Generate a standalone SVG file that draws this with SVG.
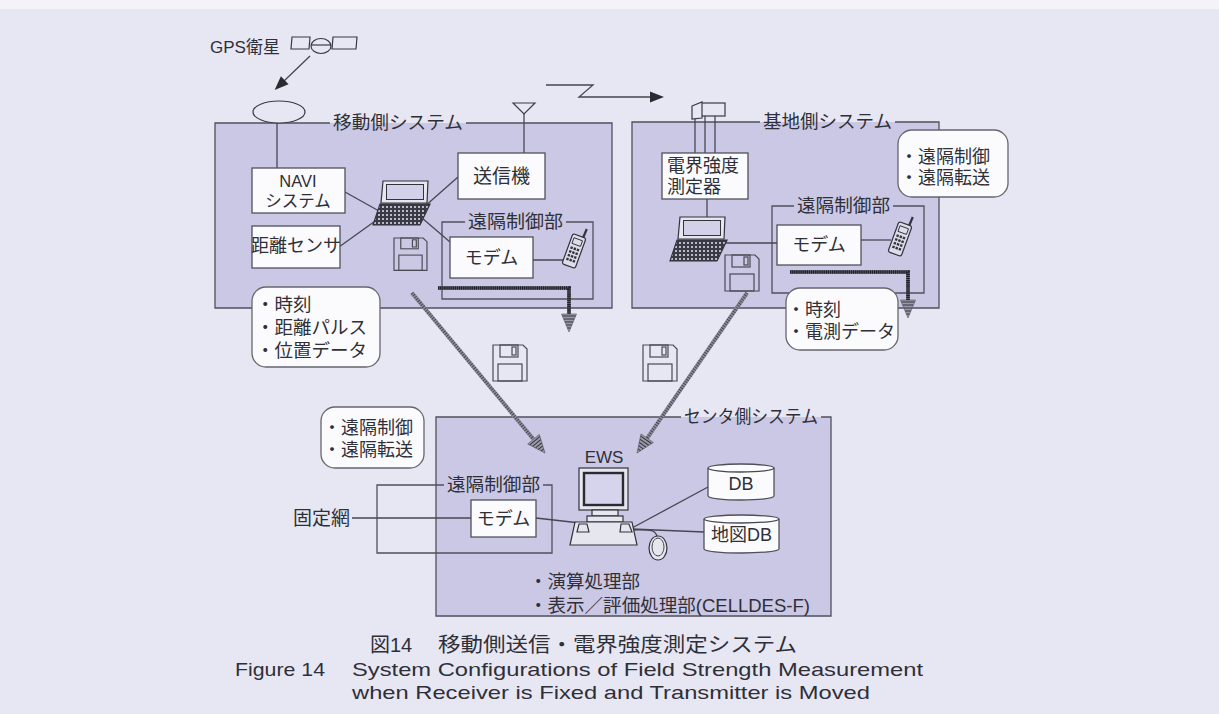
<svg xmlns="http://www.w3.org/2000/svg" width="1219" height="714" viewBox="0 0 1219 714">
<style>
.jp{font-family:"Liberation Sans","Noto Sans CJK JP","Noto Sans CJK SC",sans-serif;fill:#2f2f38;dominant-baseline:central}
.en{font-family:"Liberation Sans",Arial,sans-serif;fill:#2f2f38}
.ln{fill:none;stroke:#474752;stroke-width:1.3}
.sys{fill:#cac8e4;stroke:none}
.frame{fill:none;stroke:#50505c;stroke-width:1.3}
.box{fill:#fbfbfd;stroke:#50505c;stroke-width:1.3}
.memo{fill:#fbfbfd;stroke:#66666f;stroke-width:1.3}
.dev{fill:#e6e6ef;stroke:#33333c;stroke-width:1.2}
.hatch{fill:none;stroke:#8c8c9a;stroke-width:4}
.hatchdot{fill:none;stroke:#3a3a46;stroke-width:3.4;stroke-dasharray:0.8 1.7}
.bus{fill:none;stroke:#5a5a66;stroke-width:3.6}
.busdot{fill:none;stroke:#1f1f28;stroke-width:3.6;stroke-dasharray:1.2 0.9}
</style>
<defs>
  <marker id="solidHead" viewBox="-14 -7 16 14" refX="-13" refY="0" markerWidth="16" markerHeight="14" markerUnits="userSpaceOnUse" orient="auto" overflow="visible">
    <path d="M0,0 L-14,-5.5 L-14,5.5 Z" fill="#2a2a33"/>
  </marker>
  <marker id="hatchHead" viewBox="-19 -8 20 16" refX="-18" refY="0" markerWidth="20" markerHeight="16" markerUnits="userSpaceOnUse" orient="auto" overflow="visible">
    <path d="M0,0 L-18,-7.5 L-18,7.5 Z" fill="#9a9aa8" stroke="#55555f" stroke-width="0.6"/>
    <path d="M-16,-6.5 V6.5 M-13,-5.2 V5.2 M-10,-4 V4 M-7,-2.8 V2.8 M-4,-1.6 V1.6" stroke="#34343e" stroke-width="1"/>
  </marker>
  <pattern id="keys" width="4" height="4" patternUnits="userSpaceOnUse">
    <rect width="4" height="4" fill="#3a3a44"/>
    <rect x="1" y="1" width="2" height="2" fill="#b9b9c9"/>
  </pattern>
  <!-- notebook PC -->
  <g id="laptop">
    <path d="M10,0 H55 L54,22 H8 Z" class="dev"/>
    <rect x="13.5" y="3.5" width="37" height="15" fill="#d3d1ea" stroke="#33333c" stroke-width="1"/>
    <path d="M7,23 H57 L47,44 H0 Z" fill="url(#keys)" stroke="#33333c" stroke-width="1.2"/>
  </g>
  <!-- floppy disk -->
  <g id="floppy" fill="none" stroke="#4a4a55" stroke-width="1.2">
    <path d="M0,0 H30 L34,4 V36 H0 Z"/>
    <rect x="7" y="0" width="18" height="12"/>
    <rect x="19" y="2" width="4" height="8"/>
    <rect x="5" y="19" width="24" height="17"/>
  </g>
  <!-- portable phone -->
  <g id="phone">
    <line x1="4" y1="-15" x2="4.5" y2="-25" stroke="#33333c" stroke-width="2.2"/>
    <rect x="-7" y="-16" width="14" height="32" rx="2" fill="#dcdcea" stroke="#33333c" stroke-width="1.2"/>
    <rect x="-4.5" y="-12.5" width="9" height="6" fill="none" stroke="#33333c" stroke-width="0.9"/>
    <g fill="#33333c">
      <rect x="-4.6" y="-3.5" width="2.4" height="2.4"/><rect x="-1.2" y="-3.5" width="2.4" height="2.4"/><rect x="2.2" y="-3.5" width="2.4" height="2.4"/>
      <rect x="-4.6" y="0.5" width="2.4" height="2.4"/><rect x="-1.2" y="0.5" width="2.4" height="2.4"/><rect x="2.2" y="0.5" width="2.4" height="2.4"/>
      <rect x="-4.6" y="4.5" width="2.4" height="2.4"/><rect x="-1.2" y="4.5" width="2.4" height="2.4"/><rect x="2.2" y="4.5" width="2.4" height="2.4"/>
      <rect x="-4.6" y="8.5" width="2.4" height="2.4"/><rect x="-1.2" y="8.5" width="2.4" height="2.4"/><rect x="2.2" y="8.5" width="2.4" height="2.4"/>
    </g>
  </g>
</defs>

<!-- page -->
<rect width="1219" height="714" fill="#e7e7f3"/>
<rect width="1219" height="9" fill="#f3f3f8"/>

<!-- system areas -->
<g id="mobile-system">
  <rect class="sys" x="215" y="123" width="397" height="185"/>
  <path class="frame" d="M330,123 H215 V308 H612 V123 H466"/>
  <text class="jp" x="333" y="123" font-size="18" textLength="130" lengthAdjust="spacingAndGlyphs">移動側システム</text>
</g>
<g id="base-system">
  <rect class="sys" x="632" y="122" width="307" height="186"/>
  <path class="frame" d="M760,122 H632 V308 H939 V122 H895"/>
  <text class="jp" x="763" y="122" font-size="18" textLength="129" lengthAdjust="spacingAndGlyphs">基地側システム</text>
</g>
<g id="center-system">
  <rect class="sys" x="436" y="417" width="395" height="199"/>
  <path class="frame" d="M681,417 H436 V616 H831 V417 H821"/>
  <text class="jp" x="684" y="417" font-size="18" textLength="134" lengthAdjust="spacingAndGlyphs">センタ側システム</text>
</g>

<!-- remote control units -->
<g id="mobile-remote">
  <path class="frame" d="M465,222 H442 V299 H593 V222 H566"/>
  <text class="jp" x="468" y="222" font-size="18" textLength="95" lengthAdjust="spacingAndGlyphs">遠隔制御部</text>
</g>
<g id="base-remote">
  <path class="frame" d="M794,206 H772 V293 H924 V206 H893"/>
  <text class="jp" x="797" y="206" font-size="18" textLength="93" lengthAdjust="spacingAndGlyphs">遠隔制御部</text>
</g>
<g id="center-remote">
  <path class="frame" d="M444,485 H377 V553 H552 V485 H543"/>
  <text class="jp" x="447" y="485" font-size="18" textLength="93" lengthAdjust="spacingAndGlyphs">遠隔制御部</text>
</g>

<!-- connectors -->
<g id="connectors">
  <line class="ln" x1="310" y1="56" x2="284" y2="81" marker-end="url(#solidHead)"/>
  <polyline class="ln" points="546,85 593,85 579,97 651,97" marker-end="url(#solidHead)"/>
  <line class="ln" x1="277" y1="123" x2="277" y2="168"/>
  <line class="ln" x1="524" y1="113" x2="524" y2="153"/>
  <line class="ln" x1="345" y1="192" x2="379" y2="211"/>
  <line class="ln" x1="339" y1="247" x2="378" y2="219"/>
  <line class="ln" x1="424" y1="207" x2="458" y2="177"/>
  <line class="ln" x1="422" y1="218" x2="450" y2="242"/>
  <line class="ln" x1="533" y1="260" x2="566" y2="260"/>
  <line class="ln" x1="695" y1="116" x2="695" y2="153"/>
  <line class="ln" x1="705" y1="116" x2="705" y2="153"/>
  <line class="ln" x1="715" y1="116" x2="715" y2="153"/>
  <line class="ln" x1="707" y1="199" x2="707" y2="217"/>
  <line class="ln" x1="726" y1="243" x2="777" y2="243"/>
  <line class="ln" x1="861" y1="240" x2="891" y2="240"/>
  <line class="ln" x1="352" y1="518" x2="471" y2="518"/>
  <line class="ln" x1="536" y1="518" x2="580" y2="523"/>
  <line class="ln" x1="632" y1="528" x2="708" y2="487"/>
  <line class="ln" x1="632" y1="529" x2="704" y2="532"/>
  <path class="ln" d="M632,530 C646,530 656,528 657,537"/>
  <!-- data transfer buses -->
  <path class="bus" d="M438,288 H569 V314" marker-end="url(#hatchHead)"/>
  <path class="busdot" d="M438,288 H569 V314"/>
  <path class="bus" d="M790,272 H908 V300" marker-end="url(#hatchHead)"/>
  <path class="busdot" d="M790,272 H908 V300"/>
  <!-- floppy hand-over to the center -->
  <line class="hatch" x1="412" y1="293" x2="533.5" y2="439.2" marker-end="url(#hatchHead)"/>
  <line class="hatchdot" x1="412" y1="293" x2="533.5" y2="439.2"/>
  <line class="hatch" x1="747" y1="293" x2="647.2" y2="438.2" marker-end="url(#hatchHead)"/>
  <line class="hatchdot" x1="747" y1="293" x2="647.2" y2="438.2"/>
</g>

<!-- GPS satellite -->
<g id="gps">
  <text class="jp" x="210" y="47" font-size="17">GPS衛星</text>
  <g fill="none" stroke="#3a3a44" stroke-width="1.2">
    <path d="M292,37 H310 L309,49 H291 Z"/>
    <ellipse cx="321" cy="46" rx="10" ry="7.5"/>
    <line x1="311" y1="45" x2="331" y2="45"/>
    <path d="M333,37 H357 L356,49 H332 Z"/>
  </g>
</g>
<g id="gps-antenna">
  <ellipse cx="279" cy="112" rx="26" ry="11" fill="#e7e7f3" stroke="#3a3a44" stroke-width="1.2"/>
</g>

<!-- mobile side -->
<g id="navi">
  <rect class="box" x="252" y="168" width="93" height="45"/>
  <text class="jp" font-size="16.5" text-anchor="middle"><tspan x="298" y="181">NAVI</tspan><tspan x="298" y="200.5">システム</tspan></text>
</g>
<g id="distance-sensor">
  <rect class="box" x="252" y="226" width="88" height="42"/>
  <text class="jp" x="296" y="246" font-size="18" text-anchor="middle">距離センサ</text>
</g>
<g id="mobile-pc">
  <use href="#laptop" x="373" y="181"/>
  <use href="#floppy" transform="translate(394,238) scale(0.97,0.9)"/>
</g>
<g id="transmitter">
  <path d="M513,103 H535 L524,114 Z" fill="none" stroke="#3a3a44" stroke-width="1.2"/>
  <rect class="box" x="458" y="153" width="87" height="46"/>
  <text class="jp" x="501.5" y="176" font-size="19" text-anchor="middle">送信機</text>
</g>
<g id="mobile-modem">
  <rect class="box" x="450" y="237" width="83" height="41"/>
  <text class="jp" x="491.5" y="258" font-size="18" text-anchor="middle">モデム</text>
  <use href="#phone" transform="translate(574,251) rotate(20)"/>
</g>
<g id="mobile-data">
  <rect class="memo" x="252" y="287" width="128" height="80" rx="14"/>
  <text class="jp" font-size="18.5"><tspan x="256" y="304">・時刻</tspan><tspan x="256" y="327">・距離パルス</tspan><tspan x="256" y="350">・位置データ</tspan></text>
</g>

<!-- base side -->
<g id="base-antenna" fill="#e7e7f3" stroke="#3a3a44" stroke-width="1.2">
  <rect x="701" y="103" width="24" height="13"/>
  <path d="M692,106 L702,102 V118 L692,119 Z"/>
</g>
<g id="field-meter">
  <rect class="box" x="662" y="153" width="86" height="46"/>
  <text class="jp" font-size="18"><tspan x="667" y="166">電界強度</tspan><tspan x="667" y="186.5">測定器</tspan></text>
</g>
<g id="base-pc">
  <use href="#laptop" x="670" y="217"/>
  <use href="#floppy" x="725" y="255"/>
</g>
<g id="base-modem">
  <rect class="box" x="777" y="225" width="84" height="40"/>
  <text class="jp" x="819" y="245" font-size="18" text-anchor="middle">モデム</text>
  <use href="#phone" transform="translate(900,239) rotate(20)"/>
</g>
<g id="base-remote-ops">
  <rect class="memo" x="898" y="130" width="110" height="67" rx="14"/>
  <text class="jp" font-size="18"><tspan x="900" y="156.5">・遠隔制御</tspan><tspan x="900" y="178">・遠隔転送</tspan></text>
</g>
<g id="base-data">
  <rect class="memo" x="786" y="288" width="112" height="62" rx="14"/>
  <text class="jp" font-size="18"><tspan x="787" y="310">・時刻</tspan><tspan x="787" y="332">・電測データ</tspan></text>
</g>

<!-- media in transit -->
<g id="floppy-mobile">
  <use href="#floppy" x="493" y="345"/>
</g>
<g id="floppy-base">
  <use href="#floppy" x="643" y="345"/>
</g>

<!-- center side -->
<g id="center-remote-ops">
  <rect class="memo" x="321" y="407" width="103" height="61" rx="14"/>
  <text class="jp" font-size="18"><tspan x="323" y="428">・遠隔制御</tspan><tspan x="323" y="450">・遠隔転送</tspan></text>
</g>
<g id="fixed-net">
  <text class="jp" x="293" y="518" font-size="19">固定網</text>
</g>
<g id="center-modem">
  <rect class="box" x="471" y="500" width="65" height="37"/>
  <text class="jp" x="503.5" y="519" font-size="18" text-anchor="middle">モデム</text>
</g>
<g id="ews">
  <text class="jp" x="604" y="457" font-size="17" text-anchor="middle">EWS</text>
  <rect class="dev" x="579" y="468" width="49" height="42"/>
  <rect x="584" y="473" width="39" height="32" fill="#d6d4ec" stroke="#2a2a33" stroke-width="2.4"/>
  <rect class="dev" x="592" y="510" width="26" height="6"/>
  <rect class="dev" x="587" y="516" width="36" height="6"/>
  <path class="dev" d="M575,522 H632 L637,545 H570 Z"/>
  <path class="dev" d="M579,524 H587 L589,532 H577 Z"/>
  <path class="dev" d="M621,524 H629 L632,532 H620 Z"/>
  <ellipse class="dev" cx="658" cy="548" rx="9" ry="12"/>
  <ellipse cx="658" cy="547" rx="6" ry="9" fill="none" stroke="#33333c" stroke-width="0.9"/>
</g>
<g id="db">
  <path class="box" d="M708,468 A33,4 0 0 1 774,468 V496 A33,4 0 0 1 708,496 Z"/>
  <path class="ln" d="M708,468 A33,4 0 0 0 774,468"/>
  <text class="jp" x="741" y="484" font-size="18" text-anchor="middle">DB</text>
</g>
<g id="map-db">
  <path class="box" d="M704,519 A37.5,4 0 0 1 779,519 V549 A37.5,4 0 0 1 704,549 Z"/>
  <path class="ln" d="M704,519 A37.5,4 0 0 0 779,519"/>
  <text class="jp" x="741.5" y="535" font-size="18" text-anchor="middle">地図DB</text>
</g>
<g id="center-functions">
  <text class="jp" font-size="18.5"><tspan x="529" y="581">・演算処理部</tspan><tspan x="529" y="605" textLength="281" lengthAdjust="spacingAndGlyphs">・表示／評価処理部(CELLDES-F)</tspan></text>
</g>

<!-- caption -->
<g id="caption">
  <text class="jp" x="370" y="645" font-size="20">図14</text>
  <text class="jp" x="438" y="645" font-size="20" textLength="359" lengthAdjust="spacingAndGlyphs">移動側送信・電界強度測定システム</text>
  <text class="en" x="235" y="676" font-size="19" textLength="90" lengthAdjust="spacingAndGlyphs">Figure 14</text>
  <text class="en" font-size="19"><tspan x="352" y="676" textLength="571" lengthAdjust="spacingAndGlyphs">System Configurations of Field Strength Measurement</tspan><tspan x="352" y="699" textLength="518" lengthAdjust="spacingAndGlyphs">when Receiver is Fixed and Transmitter is Moved</tspan></text>
</g>
</svg>
